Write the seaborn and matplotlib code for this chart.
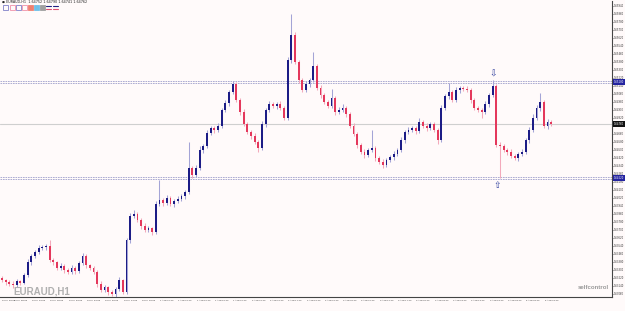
import numpy as np
import pandas as pd
import seaborn as sns
import matplotlib.pyplot as plt
from matplotlib.patches import Rectangle

# ---- data EURAUD H1 ----
first_open = 1.6322
closes = [1.6320, 1.6318, 1.6316, 1.6315, 1.6319, 1.6317, 1.6325, 1.6338, 1.6344, 1.6348,
          1.6352, 1.6353, 1.6354, 1.6340, 1.6338, 1.6332, 1.6334, 1.6330, 1.6328, 1.6332,
          1.6329, 1.6337, 1.6344, 1.6335, 1.6332, 1.6328, 1.6316, 1.6310, 1.6313, 1.6308,
          1.6306, 1.6311, 1.6320, 1.6308, 1.6360, 1.6384, 1.6386, 1.6380, 1.6374, 1.6370,
          1.6372, 1.6368, 1.6396, 1.6400, 1.6397, 1.6402, 1.6396, 1.6399, 1.6401, 1.6404,
          1.6408, 1.6432, 1.6425, 1.6432, 1.6450, 1.6454, 1.6467, 1.6472, 1.6470, 1.6474,
          1.6490, 1.6497, 1.6508, 1.6516, 1.6500, 1.6488, 1.6476, 1.6468, 1.6464, 1.6458,
          1.6452, 1.6476, 1.6490, 1.6496, 1.6494, 1.6496, 1.6492, 1.6482, 1.6540, 1.6565,
          1.6538, 1.6520, 1.6510, 1.6516, 1.6520, 1.6534, 1.6512, 1.6505, 1.6498, 1.6494,
          1.6502, 1.6488, 1.6490, 1.6492, 1.6486, 1.6474, 1.6466, 1.6455, 1.6448, 1.6445,
          1.6450, 1.6452, 1.6442, 1.6438, 1.6435, 1.6440, 1.6443, 1.6446, 1.6450, 1.6460,
          1.6468, 1.6470, 1.6472, 1.6469, 1.6478, 1.6474, 1.6472, 1.6476, 1.6470, 1.6460,
          1.6492, 1.6504, 1.6508, 1.6500, 1.6510, 1.6512, 1.6511, 1.6510, 1.6500, 1.6492,
          1.6490, 1.6488, 1.6496, 1.6505, 1.6514, 1.6455, 1.6454, 1.6450, 1.6448, 1.6444,
          1.6442, 1.6446, 1.6448, 1.6460, 1.6470, 1.6482, 1.6492, 1.6498, 1.6474, 1.6478,
          1.6476]

# meches en pips
upper_wick = [2, 1, 2, 3, 2, 1, 2, 3, 2, 2,
              3, 2, 2, 6, 2, 1, 3, 2, 2, 3,
              2, 2, 3, 2, 1, 2, 2, 3, 2, 1,
              2, 2, 3, 1, 2, 3, 4, 2, 2, 3,
              2, 1, 3, 20, 2, 3, 2, 2, 3, 2,
              2, 26, 2, 3, 4, 2, 3, 2, 2, 3,
              2, 3, 2, 3, 2, 2, 3, 2, 2, 3,
              2, 3, 2, 3, 2, 2, 3, 2, 3, 21,
              3, 2, 2, 3, 2, 14, 2, 3, 2, 2,
              9, 2, 3, 4, 2, 2, 3, 2, 2, 3,
              2, 18, 2, 2, 3, 2, 2, 3, 2, 3,
              2, 3, 2, 2, 4, 2, 3, 2, 2, 2,
              3, 2, 9, 2, 3, 2, 2, 3, 2, 2,
              2, 2, 3, 2, 6, 2, 3, 2, 2, 3,
              2, 2, 3, 2, 3, 4, 3, 9, 2, 3,
              2]
lower_wick = [2, 3, 2, 3, 2, 2, 1, 2, 3, 2,
              2, 2, 3, 2, 3, 2, 2, 3, 2, 2,
              3, 2, 2, 3, 2, 2, 3, 2, 2, 3,
              2, 3, 2, 2, 2, 3, 2, 2, 3, 2,
              2, 3, 2, 2, 3, 2, 2, 3, 2, 2,
              3, 2, 3, 2, 2, 3, 2, 2, 3, 2,
              2, 2, 3, 2, 2, 3, 2, 2, 3, 2,
              4, 2, 3, 2, 2, 3, 2, 2, 2, 3,
              2, 3, 2, 2, 3, 2, 2, 3, 2, 2,
              2, 3, 2, 2, 3, 2, 2, 3, 2, 3,
              2, 2, 3, 2, 3, 2, 2, 3, 2, 2,
              3, 2, 2, 3, 2, 2, 3, 2, 2, 4,
              2, 2, 3, 2, 2, 3, 2, 2, 3, 2,
              2, 6, 2, 3, 2, 2, 32, 2, 3, 2,
              2, 3, 2, 2, 3, 2, 2, 3, 2, 3,
              2]

resistance = 1.6518
support = 1.6422
current_price = 1.6476
header_prices = ["1.64752", "1.64790", "1.64741", "1.64762"]

times = pd.date_range("2020-07-30 03:00", periods=len(closes), freq="h")
time_ticks = list(range(0, len(closes), 5))
time_labels = [f"{t.day} {t:%b} {t:%H:%M}" for t in times[time_ticks]]
price_ticks = np.arange(1.6594, 1.6300, -0.0008)

# ---- OHLC ----
df = pd.DataFrame({"close": closes, "up": upper_wick, "down": lower_wick})
df["open"] = [first_open] + closes[:-1]
df["high"] = df[["open", "close"]].max(axis=1) + df["up"] * 0.0001
df["low"] = df[["open", "close"]].min(axis=1) - df["down"] * 0.0001
df["bull"] = df["close"] >= df["open"]
idx = np.arange(len(df))

sns.set_theme(style="white")
plt.rcParams['font.family'] = ['DejaVu Sans']
bg = "#fffafa"

fig = plt.figure(figsize=(6.25, 3.11), dpi=100, facecolor=bg)
ax = fig.add_axes([0, 14 / 311, 612 / 625, 296 / 311], facecolor=bg)

wick_col = np.where(df["bull"], "#a4a4d6", "#f3a9bb")
body_col = np.where(df["bull"], "#1c1c86", "#e4385c")
ax.vlines(idx, df["low"], df["high"], colors=wick_col, linewidth=0.75, zorder=2)
heights = np.maximum((df["close"] - df["open"]).abs(), 0.00008)
ax.bar(idx, heights, bottom=df[["open", "close"]].min(axis=1), width=0.5,
       color=body_col, linewidth=0, zorder=3)

# lignes horizontales
for lvl in (resistance, support):
    for off in (0.0001, -0.0001):
        ax.axhline(lvl + off, color="#a0a0cc", lw=0.6, ls=(0, (2, 1)), zorder=1)
ax.axhline(current_price, color="#cfcfcf", lw=0.8, zorder=1)

# fleches
ax.text(134.2, 1.6526, "\u21e9", fontsize=6.5, color="#2c3c9c", ha="center", va="center")
ax.text(135.3, 1.6414, "\u21e7", fontsize=6.5, color="#2c3c9c", ha="center", va="center")

ax.set_xlim(-0.55, 166.6)
ax.set_ylim(1.6303, 1.6599)

ax.yaxis.tick_right()
ax.set_yticks(price_ticks)
ax.set_yticklabels([f"{p:.5f}" for p in price_ticks])
ax.set_xticks(time_ticks)
ax.set_xticklabels(time_labels)
ax.get_xticklabels()[0].set_horizontalalignment("left")
ax.tick_params(axis="y", labelsize=1.8, colors="#333333", length=1.0, width=0.5, pad=0.4)
ax.tick_params(axis="x", labelsize=1.6, colors="#333333", length=1.2, width=0.5, pad=0.8)
for s in ("top", "left"):
    ax.spines[s].set_visible(False)
for s in ("bottom", "right"):
    ax.spines[s].set_color("#444444")
    ax.spines[s].set_linewidth(0.8)

# etiquettes de prix sur l'axe
for lvl, col in ((resistance, "#2424a0"), (support, "#2424a0"), (current_price, "#111111")):
    ax.text(1.003, lvl, f"{lvl:.5f}", transform=ax.get_yaxis_transform(), fontsize=1.8,
            color="white", va="center", ha="left", clip_on=False, zorder=5,
            bbox=dict(boxstyle="square,pad=0.3", fc=col, ec="none"))

# textes
fig.text(13 / 625, 1 - 291 / 311, "EURAUD,H1", fontsize=7.0, fontweight="bold",
         family="Liberation Sans", color="#b0b0b0", va="center", ha="left")
fig.text(609 / 625, 1 - 287.5 / 311, "selfcontrol", fontsize=4.3, fontweight="bold",
         family="Liberation Sans", color="#9a9a9a", va="center", ha="right")
fig.text(2 / 625, 1 - 2.2 / 311, "\u25cf EURAUD,H1  " + " ".join(header_prices),
         fontsize=2.4, color="#222222", va="center", ha="left")

# icones en haut a gauche
icons = [(3, "#8080c8", False), (10, "#f090a8", False), (16, "#8080c8", False),
         (22, "#f090a8", False), (28, "#f08070", True), (34, "#70c0e8", True),
         (40, "#a0a0a0", True)]
for x0, col, filled in icons:
    fig.add_artist(Rectangle((x0 / 625, 1 - 10 / 311), 5 / 625, 5 / 311,
                             transform=fig.transFigure, fc=col if filled else "none",
                             ec=col, lw=0.6))
for x0 in (46, 53):
    fig.add_artist(plt.Line2D([x0 / 625, (x0 + 5) / 625], [1 - 6 / 311] * 2,
                              transform=fig.transFigure, color="#202080", lw=0.8))
    fig.add_artist(plt.Line2D([x0 / 625, (x0 + 5) / 625], [1 - 9 / 311] * 2,
                              transform=fig.transFigure, color="#e05070", lw=0.8))

fig.savefig("out.png", dpi=100, facecolor=bg)
